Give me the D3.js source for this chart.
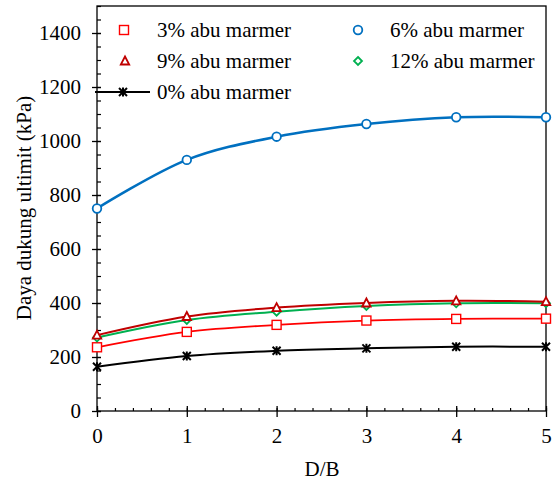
<!DOCTYPE html>
<html>
<head>
<meta charset="utf-8">
<script src="https://cdn.jsdelivr.net/npm/d3@7"></script>
<style>
  body { margin: 0; background: #fff; }
  text { font-family: "Liberation Serif", "Times New Roman", serif; fill: #000; }
</style>
</head>
<body>
<div id="chart"></div>
<script>
// D/B ratio on x, ultimate bearing capacity (kPa) on y
var dbValues = [0, 1, 2, 3, 4, 5];
var abu0 = [164, 204, 223, 232, 238, 238];
var abu3 = [236, 293, 319, 335, 341, 342];
var abu6 = [750, 930, 1016, 1063, 1088, 1088];
var abu9 = [281, 350, 383, 400, 408, 405];
var abu12 = [272, 337, 368, 389, 399, 399];

var xTicks = [0, 1, 2, 3, 4, 5];
var yTicks = [0, 200, 400, 600, 800, 1000, 1200, 1400];

var series = [
    {name: "0% abu marmer", values: abu0, color: "#000000", line: "#000000", marker: "star", width: 2},
    {name: "3% abu marmer", values: abu3, color: "#ff0000", line: "#ff0000", marker: "square", width: 1.8},
    {name: "6% abu marmer", values: abu6, color: "#0070c0", line: "#0070c0", marker: "circle", width: 2.6},
    {name: "12% abu marmer", values: abu12, color: "#00b050", line: "#00b050", marker: "diamond", width: 2},
    {name: "9% abu marmer", values: abu9, color: "#c00000", line: "#c00000", marker: "triangle", width: 2}
];

var width = 557,
    height = 481,
    fontFamily = "'Liberation Serif', 'Times New Roman', serif",
    fontSize = 21;

var svg = d3.select("#chart").append("svg")
    .attr("width", width)
    .attr("height", height);

var x = d3.scaleLinear().domain([0, 5]).range([97, 546]);
var y = d3.scaleLinear().domain([0, 1500]).range([411, 6]);

// frame
svg.append("rect")
    .attr("x", x(0)).attr("y", y(1500))
    .attr("width", x(5) - x(0)).attr("height", y(0) - y(1500))
    .style("fill", "none").style("stroke", "#000").style("stroke-width", 1.3);

// minor ticks (inside)
var yMinor = svg.append("g")
    .attr("transform", "translate(" + x(0) + ",0)")
    .call(d3.axisRight(y).tickValues(d3.range(0, 1501, 50)).tickSize(4).tickFormat(""));
var xMinor = svg.append("g")
    .attr("transform", "translate(0," + y(0) + ")")
    .call(d3.axisTop(x).tickValues(d3.range(0, 5.01, 0.2)).tickSize(3).tickFormat(""));
[yMinor, xMinor].forEach(function(g) {
    g.select(".domain").remove();
    g.selectAll("line").style("stroke", "#000").style("stroke-width", 1.2);
});

// major ticks, crossing the axis
var yAxis = svg.append("g")
    .attr("transform", "translate(" + x(0) + ",0)")
    .attr("font-family", fontFamily)
    .call(d3.axisLeft(y).tickValues(yTicks).tickSize(5).tickPadding(11).tickFormat(d3.format("d")));
yAxis.selectAll(".tick line").attr("x2", -5).attr("x1", 4);

var xAxis = svg.append("g")
    .attr("transform", "translate(0," + y(0) + ")")
    .attr("font-family", fontFamily)
    .call(d3.axisBottom(x).tickValues(xTicks).tickSize(6).tickPadding(11).tickFormat(d3.format("d")));
xAxis.selectAll(".tick line").attr("y1", -5).attr("y2", 6);

[yAxis, xAxis].forEach(function(g) {
    g.select(".domain").remove();
    g.selectAll("line").style("stroke", "#000").style("stroke-width", 1.3);
    g.selectAll("text").style("font-size", fontSize + "px").style("font-family", fontFamily);
});

// axis titles
svg.append("text")
    .attr("x", 322).attr("y", 476)
    .attr("text-anchor", "middle")
    .style("font-size", fontSize + "px")
    .style("font-family", fontFamily)
    .text("D/B");

svg.append("text")
    .attr("transform", "translate(31,208) rotate(-90)")
    .attr("text-anchor", "middle")
    .style("font-size", fontSize + "px")
    .style("font-family", fontFamily)
    .text("Daya dukung ultimit (kPa)");

function drawMarker(g, type, color) {
    if (type === "circle") {
        g.append("circle").attr("r", 4.3)
            .style("fill", "#fff").style("stroke", color).style("stroke-width", 1.8);
    } else if (type === "square") {
        g.append("rect").attr("x", -4.5).attr("y", -4.5).attr("width", 9).attr("height", 9)
            .style("fill", "#fff").style("stroke", color).style("stroke-width", 1.4);
    } else if (type === "triangle") {
        g.append("path").attr("d", "M0,-4.5L4.2,3.5L-4.2,3.5Z")
            .style("fill", "#fff").style("stroke", color).style("stroke-width", 1.8);
    } else if (type === "diamond") {
        g.append("path").attr("d", "M0,-4L4,0L0,4L-4,0Z")
            .style("fill", "#fff").style("stroke", color).style("stroke-width", 1.8);
    } else if (type === "star") {
        g.append("path").attr("d", "M-4,-4L4,4M-4,4L4,-4M0,-4.5L0,4.5")
            .style("fill", "none").style("stroke", color).style("stroke-width", 2);
    }
}

var line = d3.line()
    .x(function(d) { return x(d[0]); })
    .y(function(d) { return y(d[1]); })
    .curve(d3.curveCatmullRom.alpha(0.5));

series.forEach(function(s) {
    var pts = dbValues.map(function(v, i) { return [v, s.values[i]]; });
    var g = svg.append("g").attr("class", "series");
    g.append("path")
        .datum(pts)
        .attr("d", line)
        .style("fill", "none")
        .style("stroke", s.line)
        .style("stroke-width", s.width);
    g.selectAll(".pt")
        .data(pts)
        .enter()
        .append("g")
        .attr("class", "pt")
        .attr("transform", function(d) { return "translate(" + x(d[0]) + "," + y(d[1]) + ")"; })
        .each(function() { drawMarker(d3.select(this), s.marker, s.color); });
});

// legend
var legendRows = [
    {name: "3% abu marmer", marker: "square", color: "#ff0000", mx: 124, tx: 157, ty: 30},
    {name: "6% abu marmer", marker: "circle", color: "#0070c0", mx: 358, tx: 390, ty: 30},
    {name: "9% abu marmer", marker: "triangle", color: "#c00000", mx: 125, tx: 157, ty: 61},
    {name: "12% abu marmer", marker: "diamond", color: "#00b050", mx: 358, tx: 390, ty: 61},
    {name: "0% abu marmer", marker: "star", color: "#000000", mx: 123, tx: 157, ty: 92, withLine: true}
];

var legend = svg.append("g").attr("class", "legend");
legendRows.forEach(function(r) {
    if (r.withLine) {
        legend.append("line")
            .attr("x1", 95).attr("x2", 150)
            .attr("y1", r.ty).attr("y2", r.ty)
            .style("stroke", r.color).style("stroke-width", 2);
    }
    drawMarker(legend.append("g").attr("transform", "translate(" + r.mx + "," + r.ty + ")"), r.marker, r.color);
    legend.append("text")
        .attr("x", r.tx).attr("y", r.ty + 7)
        .style("font-size", fontSize + "px")
        .style("font-family", fontFamily)
        .text(r.name);
});
</script>
</body>
</html>
